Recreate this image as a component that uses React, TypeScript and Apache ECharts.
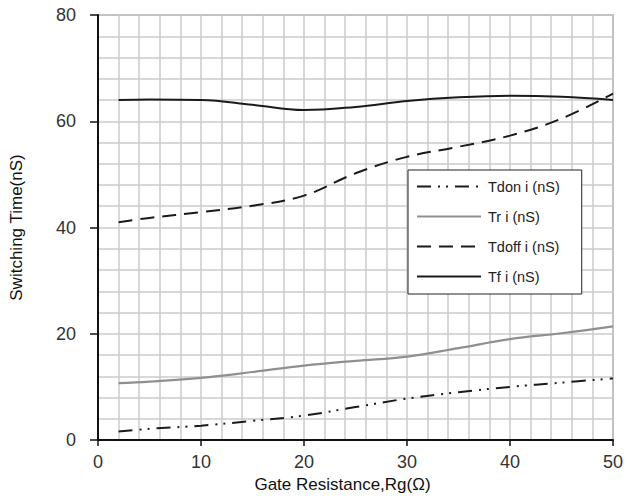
import React, { useEffect, useRef } from "react";
import * as echarts from "echarts";

// Gate resistance (Ω) sample points
const gateResistance = [2, 5, 10, 15, 20, 25, 30, 35, 40, 45, 50];

// Switching times (nS)
const tdonI = [1.6, 2.1, 2.7, 3.6, 4.6, 6.2, 7.8, 9.0, 10.0, 10.8, 11.6];
const trI = [10.7, 11.0, 11.7, 12.8, 14.0, 14.9, 15.7, 17.3, 19.0, 20.1, 21.4];
const tdoffI = [41.0, 41.8, 42.9, 44.1, 46.0, 50.2, 53.3, 55.2, 57.3, 60.5, 65.2];
const tfI = [64.0, 64.1, 64.0, 63.1, 62.1, 62.7, 63.8, 64.5, 64.8, 64.6, 64.0];

const xTicks = [0, 10, 20, 30, 40, 50];
const yTicks = [0, 20, 40, 60, 80];

const seriesNames = ["Tdon i (nS)", "Tr i (nS)", "Tdoff i (nS)", "Tf i (nS)"];

const toPairs = (ys: number[]) => gateResistance.map((x, i) => [x, ys[i]]);

export default function App() {
  const ref = useRef<HTMLDivElement>(null);

  useEffect(() => {
    if (!ref.current) return;
    const chart = echarts.init(ref.current, undefined, { renderer: "svg" });
    const font = "'Liberation Sans', Arial, sans-serif";
    const gridColor = "#cbcbcb";

    chart.setOption({
      animation: false,
      backgroundColor: "#ffffff",
      grid: {
        left: 96,
        right: 14,
        top: 15,
        bottom: 62,
        show: true,
        borderColor: "#8a8a8a",
        borderWidth: 1.5,
      },
      legend: {
        orient: "vertical",
        left: 408,
        top: 170,
        padding: [9, 22, 10, 8],
        itemGap: 15,
        itemWidth: 64,
        itemHeight: 16,
        borderColor: "#222",
        borderWidth: 1,
        backgroundColor: "#ffffff",
        itemStyle: { opacity: 0 },
        textStyle: { fontFamily: font, fontSize: 14.5, color: "#222", padding: [0, 0, 0, 2] },
        data: seriesNames,
      },
      xAxis: {
        type: "value",
        min: 0,
        max: 50,
        interval: 10,
        name: "Gate Resistance,Rg(Ω)",
        nameLocation: "middle",
        nameGap: 33,
        nameTextStyle: { fontFamily: font, fontSize: 17, color: "#111", padding: [0, 26, 0, 0] },
        axisLine: { show: true, onZero: false, lineStyle: { color: "#111", width: 2 } },
        axisTick: { show: true, length: 6, lineStyle: { color: "#111", width: 1.5 } },
        axisLabel: {
          fontFamily: font,
          fontSize: 18,
          color: "#333",
          margin: 13,
          customValues: xTicks,
        },
        splitLine: { show: true, lineStyle: { color: gridColor, width: 1.5 } },
        minorTick: { show: false, splitNumber: 5 },
        minorSplitLine: { show: true, lineStyle: { color: gridColor, width: 1.5 } },
      },
      yAxis: {
        type: "value",
        min: 0,
        max: 80,
        interval: 20,
        name: "Switching Time(nS)",
        nameLocation: "middle",
        nameGap: 73,
        nameTextStyle: { fontFamily: font, fontSize: 17, color: "#111" },
        axisLine: { show: true, lineStyle: { color: "#111", width: 2 } },
        axisTick: { show: true, length: 8, lineStyle: { color: "#111", width: 1.5 } },
        axisLabel: {
          fontFamily: font,
          fontSize: 18,
          color: "#333",
          margin: 22,
          customValues: yTicks,
        },
        splitLine: { show: true, lineStyle: { color: gridColor, width: 1.5 } },
        minorTick: { show: false, splitNumber: 5 },
        minorSplitLine: { show: true, lineStyle: { color: gridColor, width: 1.5 } },
      },
      series: [
        {
          name: seriesNames[0],
          type: "line",
          smooth: 0.4,
          symbol: "none",
          data: toPairs(tdonI),
          lineStyle: { color: "#1a1a1a", width: 2, type: [14, 7, 2, 6, 2, 7] },
          itemStyle: { color: "#1a1a1a" },
        },
        {
          name: seriesNames[1],
          type: "line",
          smooth: 0.4,
          symbol: "none",
          data: toPairs(trI),
          lineStyle: { color: "#8f8f8f", width: 2.2 },
          itemStyle: { color: "#8f8f8f" },
        },
        {
          name: seriesNames[2],
          type: "line",
          smooth: 0.4,
          symbol: "none",
          data: toPairs(tdoffI),
          lineStyle: { color: "#1a1a1a", width: 2, type: [14, 8] },
          itemStyle: { color: "#1a1a1a" },
        },
        {
          name: seriesNames[3],
          type: "line",
          smooth: 0.4,
          symbol: "none",
          data: toPairs(tfI),
          lineStyle: { color: "#1a1a1a", width: 2 },
          itemStyle: { color: "#1a1a1a" },
        },
      ],
    });

    return () => chart.dispose();
  }, []);

  return <div ref={ref} style={{ width: 627, height: 502, position: "absolute", left: 0, top: 0 }} />;
}
